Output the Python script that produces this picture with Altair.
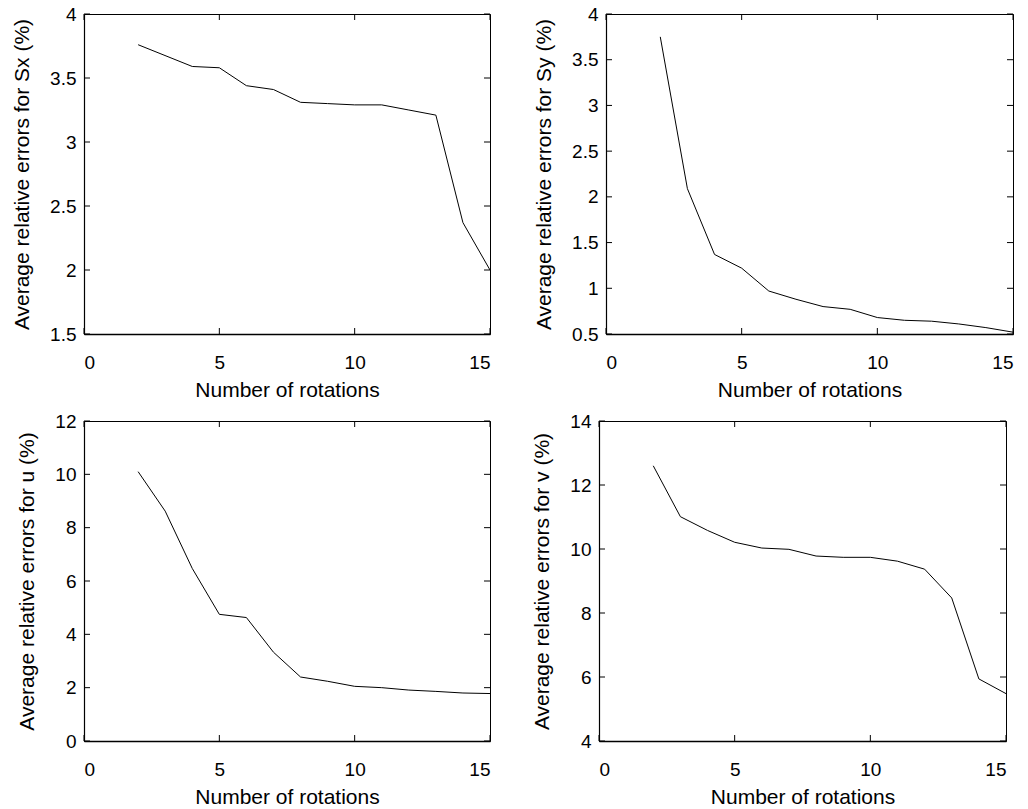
import altair as alt
import pandas as pd

# ---- data ----
ROTATIONS = [2, 3, 4, 5, 6, 7, 8, 9, 10, 11, 12, 13, 14, 15]
ROT_SX = [2, 4, 5, 6, 7, 8, 9, 10, 11, 12, 13, 14, 15]
ERR_SX = [3.76, 3.59, 3.58, 3.44, 3.41, 3.31, 3.30, 3.29, 3.29, 3.25, 3.21, 2.37, 2.00]
ERR_SY = [3.75, 2.09, 1.37, 1.22, 0.97, 0.88, 0.80, 0.77, 0.68, 0.65, 0.64, 0.61, 0.57, 0.52]
ERR_U = [10.10, 8.62, 6.47, 4.75, 4.63, 3.33, 2.40, 2.24, 2.05, 2.00, 1.91, 1.86, 1.80, 1.78]
ERR_V = [12.60, 11.01, 10.58, 10.21, 10.03, 9.99, 9.78, 9.74, 9.74, 9.62, 9.37, 8.47, 5.94, 5.48]

X_TICKS = [0, 5, 10, 15]
Y_TICKS_SX = [1.5, 2, 2.5, 3, 3.5, 4]
Y_TICKS_SY = [0.5, 1, 1.5, 2, 2.5, 3, 3.5, 4]
Y_TICKS_U = [0, 2, 4, 6, 8, 10, 12]
Y_TICKS_V = [4, 6, 8, 10, 12, 14]

X_TITLE = "Number of rotations"
TITLES = [
    "Average relative errors for Sx (%)",
    "Average relative errors for Sy (%)",
    "Average relative errors for u (%)",
    "Average relative errors for v (%)",
]

FONT = "Liberation Sans"
TICK = 6


def panel(xs, ys, yticks, ytitle, w, h, yfmt):
    xscale = alt.Scale(domain=[X_TICKS[0], X_TICKS[-1]], nice=False, zero=False)
    yscale = alt.Scale(domain=[yticks[0], yticks[-1]], nice=False, zero=False)
    xaxis = alt.Axis(values=X_TICKS, format="d", title=X_TITLE, labelPadding=19,
                     titlePadding=7, domainWidth=1.5)
    yaxis = alt.Axis(values=yticks, format=yfmt, title=ytitle, labelPadding=8,
                     titlePadding=17, domainWidth=1.2)
    X = alt.X("n:Q", scale=xscale, axis=xaxis)
    Y = alt.Y("err:Q", scale=yscale, axis=yaxis)

    df = pd.DataFrame({"n": xs, "err": ys})
    line = alt.Chart(df).mark_line(color="black", strokeWidth=1).encode(x=X, y=Y)

    xt = pd.DataFrame({"n": X_TICKS})
    yt = pd.DataFrame({"err": yticks})
    xb = alt.Chart(xt).mark_rule(color="black", strokeWidth=1).encode(
        x=X, y=alt.value(h), y2=alt.value(h - TICK))
    xtop = alt.Chart(xt).mark_rule(color="black", strokeWidth=1).encode(
        x=X, y=alt.value(0), y2=alt.value(TICK))
    yl = alt.Chart(yt).mark_rule(color="black", strokeWidth=1).encode(
        y=Y, x=alt.value(0), x2=alt.value(TICK))
    yr = alt.Chart(yt).mark_rule(color="black", strokeWidth=1).encode(
        y=Y, x=alt.value(w), x2=alt.value(w - TICK))
    return alt.layer(xb, xtop, yl, yr, line).properties(width=w, height=h)


p1 = panel(ROT_SX, ERR_SX, Y_TICKS_SX, TITLES[0], 406, 320, ".1~f")
p2 = panel(ROTATIONS, ERR_SY, Y_TICKS_SY, TITLES[1], 407, 320, ".1~f")
p3 = panel(ROTATIONS, ERR_U, Y_TICKS_U, TITLES[2], 406, 320, "d")
p4 = panel(ROTATIONS, ERR_V, Y_TICKS_V, TITLES[3], 407, 320, "d")

top = alt.hconcat(p1, p2, spacing=116, bounds="flush")
bottom = alt.hconcat(p3, p4, spacing=109, bounds="flush")

chart = (
    alt.vconcat(top, bottom, spacing=10)
    .properties(padding={"left": 11, "top": 4, "right": 5, "bottom": 0}, background="white")
    .configure_view(stroke="black", strokeWidth=1)
    .configure_axis(
        ticks=False,
        tickSize=0,
        grid=False,
        domainColor="black",
        labelColor="black",
        titleColor="black",
        labelFont=FONT,
        titleFont=FONT,
        labelFontSize=19,
        titleFontSize=21,
        titleFontWeight="normal",
    )
)

chart.save("out.html", embed_options={"renderer": "svg", "actions": False})
